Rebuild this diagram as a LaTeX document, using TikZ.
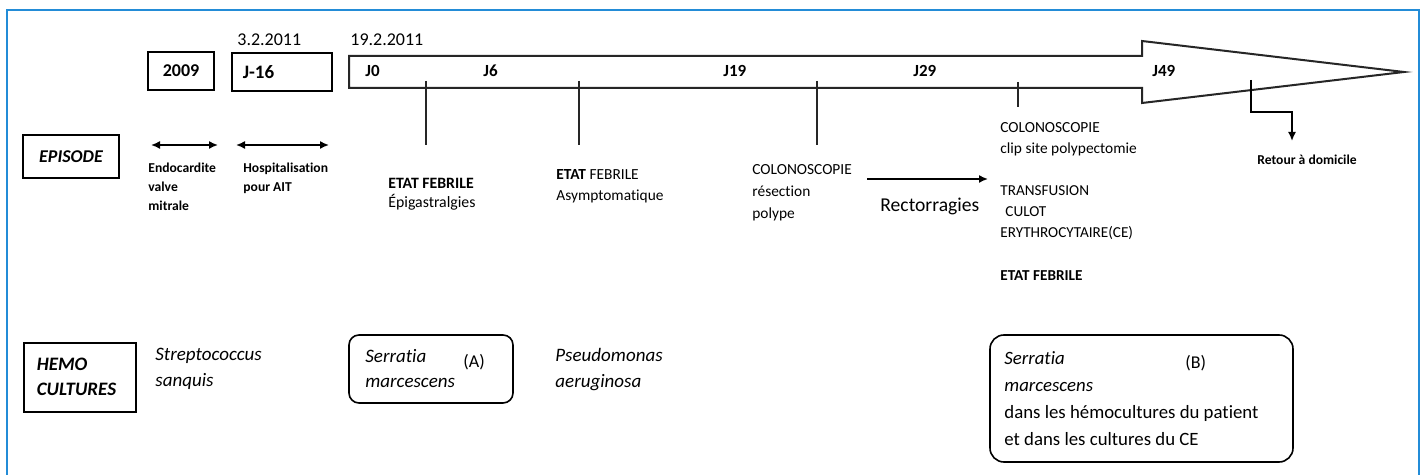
\documentclass[tikz,border=0pt]{standalone}
\usepackage{fontspec}
\setmainfont[Ligatures={NoCommon}]{Carlito}
\usetikzlibrary{arrows.meta}
\definecolor{frameblue}{RGB}{35,140,215}
\begin{document}
\begin{tikzpicture}[x=0.5pt,y=-0.5pt,
  txt/.style={inner sep=0pt, anchor=base west},
  mtxt/.style={inner sep=0pt, anchor=north west, align=left},
  sqbox/.style={draw, line width=0.8pt, inner sep=0pt},
  rbox/.style={draw, line width=0.8pt, rounded corners=5pt, inner sep=0pt},
  tickline/.style={line width=0.8pt, draw=black!85},
  conn/.style={line width=0.8pt, -{Latex[length=4.5pt,width=4pt]}},
  dconn/.style={line width=0.8pt, {Latex[length=4.5pt,width=4pt]}-{Latex[length=4.5pt,width=4pt]}},
  small/.style={font=\fontsize{6.8}{9.5}\selectfont\bfseries},
  jlab/.style={font=\fontsize{8.5}{10}\selectfont\bfseries},
  datelab/.style={font=\fontsize{9}{11}\selectfont},
  germ/.style={font=\fontsize{9.5}{13}\selectfont\itshape},
]
\useasboundingbox (0,0) rectangle (1425,475);

% blue frame (open at the bottom)
\draw[frameblue, line width=1.2pt] (7,480) -- (7,10) -- (1419,10) -- (1419,480);

% dates
\node[txt, datelab] (d1) at (237,46) {3.2.2011};
\node[txt, datelab] (d2) at (350,46) {19.2.2011};

% small boxes
\node[sqbox, minimum width=33pt, minimum height=19pt, font=\fontsize{9}{11}\selectfont\bfseries] (y2009) at (181,71) {2009};
\node[sqbox, anchor=north west, minimum height=19pt, text width=39pt, align=left, inner xsep=5.5pt, font=\fontsize{9.5}{11}\selectfont\bfseries] (j16) at (231,52) {J-16};

% timeline arrow
\draw[line width=1pt, draw=black!85, fill=white] (349,56) -- (1142,56) -- (1142,41) -- (1404,72) -- (1142,103) -- (1142,88) -- (349,88) -- cycle;
\node[txt, jlab] (j0) at (365,77) {J0};
\node[txt, jlab] (j6) at (483,77) {J6};
\node[txt, jlab] (j19) at (723,77) {J19};
\node[txt, jlab] (j29) at (913,77) {J29};
\node[txt, jlab] (j49) at (1152,77) {J49};

% ticks
\coordinate (t1a) at (426,81); \coordinate (t1b) at (426,145);
\coordinate (t2a) at (579,81); \coordinate (t2b) at (579,145);
\coordinate (t3a) at (817,81); \coordinate (t3b) at (817,145);
\coordinate (t4a) at (1018,82); \coordinate (t4b) at (1018,107);
\draw[tickline] (t1a) -- (t1b);
\draw[tickline] (t2a) -- (t2b);
\draw[tickline] (t3a) -- (t3b);
\draw[tickline] (t4a) -- (t4b);

% retour connector
\coordinate (r1) at (1251,80);
\coordinate (r2) at (1292,141);
\draw[conn] (r1) -- (1251,112) -| (r2);
\node[txt, small] (retour) at (1257,165) {Retour à domicile};

% left label boxes
\node[sqbox, minimum width=48pt, minimum height=21.5pt, font=\fontsize{9}{10}\selectfont\bfseries\itshape] (episode) at (71,156.5) {EPISODE};
\node[sqbox, anchor=north west, minimum height=34.5pt, text width=43pt, align=left, inner xsep=6.5pt, font=\fontsize{9.5}{12.5}\selectfont\bfseries\itshape] (hemo) at (23,342) {HEMO\\CULTURES};

% double arrows
\coordinate (a1l) at (151,145); \coordinate (a1r) at (218,145);
\coordinate (a2l) at (236,145); \coordinate (a2r) at (329,145);
\draw[dconn] (a1l) -- (a1r);
\draw[dconn] (a2l) -- (a2r);

% episode texts
\node[mtxt, small] (endo) at (148,163) {Endocardite\\valve\\mitrale};
\node[mtxt, small] (hosp) at (243,163) {Hospitalisation\\pour AIT};
\node[mtxt, font=\fontsize{7.9}{9.5}\selectfont] (ef1) at (388,178) {\textbf{ETAT FEBRILE}\\Épigastralgies};
\node[mtxt, font=\fontsize{7.7}{10.5}\selectfont] (ef2) at (556,169) {\textbf{ETAT} FEBRILE\\Asymptomatique};
\node[mtxt, font=\fontsize{7.7}{11}\selectfont] (colo1) at (752,164) {COLONOSCOPIE\\résection\\polype};
\coordinate (rc1) at (867,179); \coordinate (rc2) at (988,179);
\draw[conn] (rc1) -- (rc2);
\node[txt, font=\fontsize{9.8}{11}\selectfont] (recto) at (880,212) {Rectorragies};
\node[mtxt, font=\fontsize{7.7}{10.5}\selectfont] (colo2) at (1000,122) {COLONOSCOPIE\\clip site polypectomie};
\node[mtxt, font=\fontsize{7.6}{10.5}\selectfont] (transf) at (1000,185) {TRANSFUSION\\\hspace{2.5pt}CULOT\\ERYTHROCYTAIRE(CE)};
\node[txt, font=\fontsize{7.6}{10.5}\selectfont\bfseries] (ef3) at (1000,281) {ETAT FEBRILE};

% hemocultures
\node[mtxt, germ] (strep) at (155,348) {Streptococcus\\sanquis};
\node[rbox, minimum width=82pt, minimum height=34pt] (boxA) at (431,369) {};
\node[mtxt, font=\fontsize{9.5}{12.5}\selectfont\itshape] (serA) at (365,349) {Serratia\\marcescens};
\node[txt, font=\fontsize{9}{11}\selectfont] (labA) at (463,368) {(A)};
\node[mtxt, germ] (pseudo) at (555,348) {Pseudomonas\\aeruginosa};
\node[rbox, rounded corners=7pt, minimum width=151.5pt, minimum height=63.5pt] (boxB) at (1141.5,398.5) {};
\node[mtxt, font=\fontsize{9.4}{13.5}\selectfont] (serB) at (1004,351) {\textit{Serratia}\\\textit{marcescens}\\dans les hémocultures du patient\\et dans les cultures du CE};
\node[txt, font=\fontsize{9}{11}\selectfont] (labB) at (1185,369) {(B)};
\end{tikzpicture}
\end{document}
